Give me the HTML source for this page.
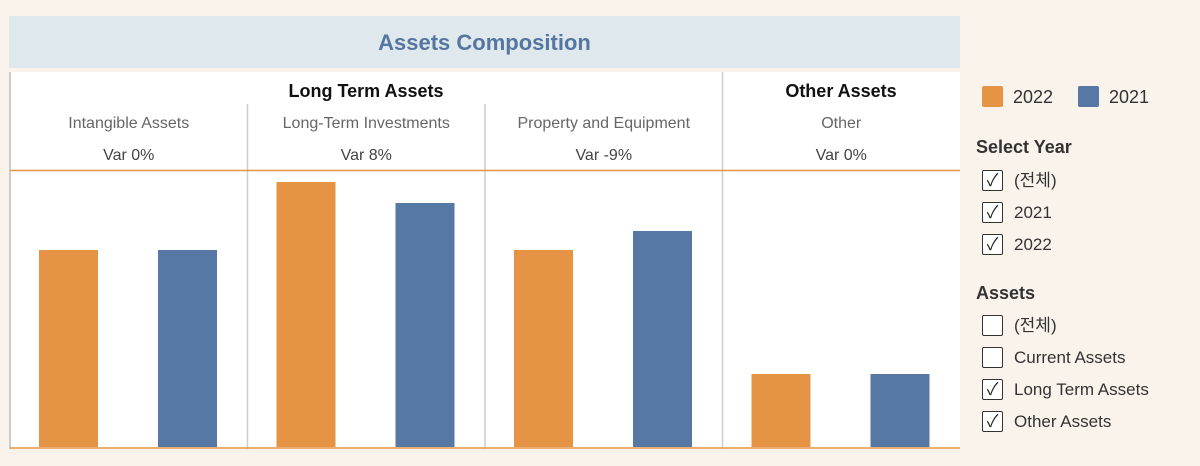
<!DOCTYPE html>
<html><head><meta charset="utf-8"><style>
body{margin:0;width:1200px;height:466px;background:#faf3ec;font-family:"Liberation Sans","Noto Sans CJK KR",sans-serif;position:relative;overflow:hidden}
.a{position:absolute}
.cb{position:absolute;left:982px;width:19px;height:19px;border:1.5px solid #333;border-radius:2px;background:#fff;font-size:17px;line-height:19px;text-align:center;color:#222}
.lb{position:absolute;left:1014px;font-size:17px;color:#333;line-height:22px}
.hd{position:absolute;left:976px;font-size:18px;font-weight:bold;color:#333}
</style></head><body>
<div class="a" style="left:9px;top:16px;width:951px;height:52px;background:#dfe9ed;text-align:center;line-height:54px;font-size:22px;font-weight:bold;color:#5576a0">Assets Composition</div>
<svg class="a" style="left:0;top:0" width="965" height="466">
<rect x="9" y="72" width="951" height="377" fill="#fff"/>
<g id="g"></g>
</svg>
<div class="a" style="left:982px;top:86px">
<div class="a" style="left:0;top:0;width:21px;height:21px;background:#e49444;border-radius:2px"></div>
<div class="a" style="left:31px;top:0;font-size:18px;color:#333;line-height:22px">2022</div>
<div class="a" style="left:96px;top:0;width:21px;height:21px;background:#5778a4;border-radius:2px"></div>
<div class="a" style="left:127px;top:0;font-size:18px;color:#333;line-height:22px">2021</div>
</div>
<div class="hd" style="top:137px">Select Year</div>
<div class="cb" style="top:170px">✓</div><div class="lb" style="top:170px">(전체)</div>
<div class="cb" style="top:202px">✓</div><div class="lb" style="top:202px">2021</div>
<div class="cb" style="top:234px">✓</div><div class="lb" style="top:234px">2022</div>
<div class="hd" style="top:283px">Assets</div>
<div class="cb" style="top:315px"></div><div class="lb" style="top:315px">(전체)</div>
<div class="cb" style="top:347px"></div><div class="lb" style="top:347px">Current Assets</div>
<div class="cb" style="top:379px">✓</div><div class="lb" style="top:379px">Long Term Assets</div>
<div class="cb" style="top:411px">✓</div><div class="lb" style="top:411px">Other Assets</div>
<script>
const categories=["Intangible Assets","Long-Term Investments","Property and Equipment","Other"];
const values2022=[197,265,197,73];
const values2021=[197,244,216,73];
const varLabels=["Var 0%","Var 8%","Var -9%","Var 0%"];
const yMax=277;
const NS="http://www.w3.org/2000/svg";
const g=document.getElementById("g");
const base=447,top0=170,colW=237.5,x0=10;
function y(v){return base-v*(base-top0)/yMax;}
function el(t,a){const e=document.createElementNS(NS,t);for(const k in a)e.setAttribute(k,a[k]);g.appendChild(e);return e;}
function txt(x,yy,s,size,w,c){const e=el("text",{x:x,y:yy,"text-anchor":"middle","font-size":size,"font-weight":w,fill:c,"font-family":"Liberation Sans, sans-serif"});e.textContent=s;return e;}
let l=el("line",{x1:10,y1:72,x2:10,y2:449,stroke:"#ccc","stroke-width":2});

categories.forEach((c,i)=>{
  const cx=x0+i*colW;
  if(i>0){const d=el("line",{x1:cx,y1:i==3?72:104,x2:cx,y2:449,stroke:"#ccc","stroke-width":1.5});
    }
  const t=txt(cx+colW/2,128,c,16,"normal","#666");
  
  const v=txt(cx+colW/2,160,varLabels[i],16,"normal","#444");
  
  const b1=el("rect",{x:cx+29,y:y(values2022[i]),width:59,height:base-y(values2022[i]),fill:"#e49444"});
  
  const b2=el("rect",{x:cx+148,y:y(values2021[i]),width:59,height:base-y(values2021[i]),fill:"#5778a4"});
  
});
let h1=txt(366,97,"Long Term Assets",18,"bold","#111");

let h2=txt(841,97,"Other Assets",18,"bold","#111");

let o1=el("line",{x1:10,y1:170.5,x2:960,y2:170.5,stroke:"#e49444","stroke-width":1.5});

let o2=el("line",{x1:10,y1:448,x2:960,y2:448,stroke:"#e49444","stroke-width":1.5});

</script>
</body></html>
